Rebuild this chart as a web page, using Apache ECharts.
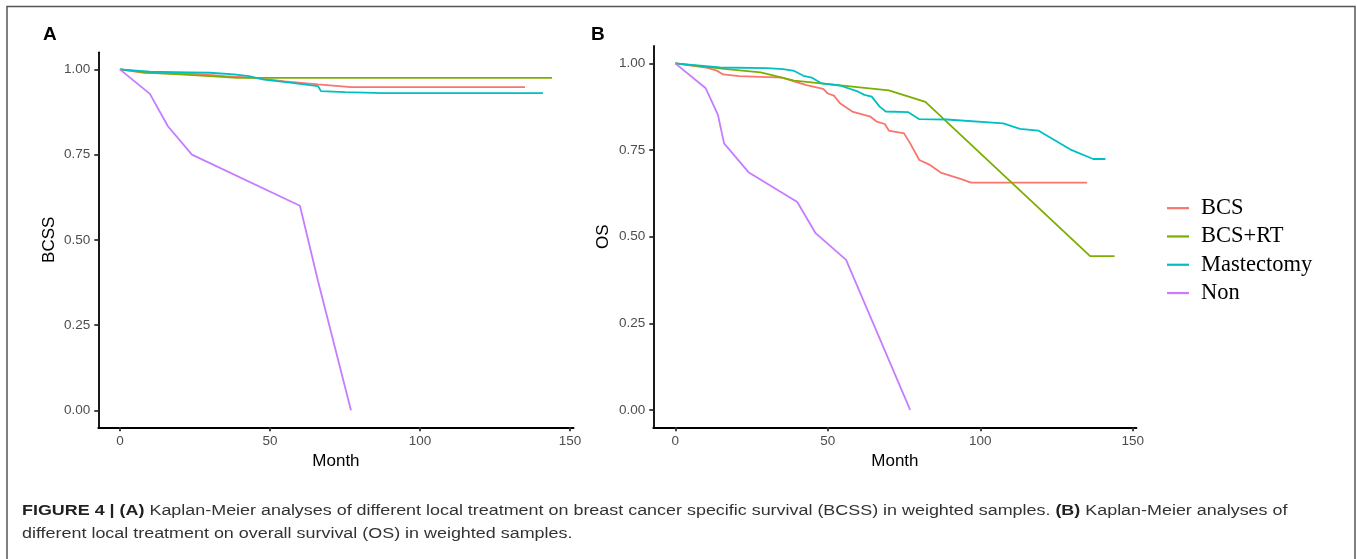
<!DOCTYPE html>
<html>
<head>
<meta charset="utf-8">
<script src="https://cdn.jsdelivr.net/npm/echarts@6/dist/echarts.min.js"></script>
<style>
html,body{margin:0;padding:0;background:#fff;}
#chart{width:1357px;height:559px;}
</style>
</head>
<body>
<div id="chart"></div>
<script>
// ---- data ----
const seriesNames = ['BCS', 'BCS+RT', 'Mastectomy', 'Non'];
const colors = ['#F8766D', '#7CAE00', '#00BFC4', '#C77CFF'];
const xTicks = [0, 50, 100, 150];
const yTicks = [0, 0.25, 0.5, 0.75, 1];

// Panel A: BCSS  [month, survival]
const bcssBCS = [[0,1],[8,0.99],[25,0.987],[35,0.98],[45,0.975],[55,0.965],[66,0.956],[77,0.948],[135,0.948]];
const bcssBCSRT = [[0,1],[10,0.99],[20,0.985],[30,0.98],[39,0.975],[144,0.975]];
const bcssMast = [[0,1],[10,0.993],[23,0.991],[30,0.99],[38,0.985],[43,0.98],[48,0.97],[56,0.962],[66,0.951],[67,0.936],[75,0.933],[88,0.93],[141,0.93]];
const bcssNon = [[0,1],[10,0.928],[16,0.833],[24,0.75],[60,0.6],[66,0.38],[77,0]];

// Panel B: OS
const osBCS = [[0,1],[10,0.988],[13.6,0.979],[15.7,0.968],[21,0.963],[35,0.959],[40,0.945],[43,0.937],[48.5,0.926],[50,0.913],[52,0.907],[54,0.885],[58,0.861],[64,0.846],[66,0.832],[68.7,0.825],[70,0.806],[75,0.798],[77,0.769],[80,0.721],[83.5,0.707],[87,0.685],[93,0.668],[97,0.656],[135,0.656]];
const osBCSRT = [[0,1],[16,0.984],[28,0.974],[39,0.95],[70,0.922],[82,0.889],[136,0.444],[144,0.444]];
const osMast = [[0,1],[14.6,0.988],[30,0.986],[35.4,0.983],[39,0.978],[42,0.964],[44.7,0.959],[48,0.942],[54,0.936],[59.5,0.92],[62,0.909],[64.4,0.904],[67,0.875],[69,0.861],[76.4,0.859],[80,0.839],[89,0.838],[107.5,0.827],[113,0.811],[119,0.806],[129.4,0.752],[137,0.724],[141,0.724]];
const osNon = [[0,1],[10,0.928],[14,0.851],[16,0.769],[24,0.686],[40,0.6],[46,0.51],[56,0.433],[77,0]];

const panelData = [[bcssBCS, bcssBCSRT, bcssMast, bcssNon], [osBCS, osBCSRT, osMast, osNon]];
const yTitles = ['BCSS', 'OS'];
const panelLetters = ['A', 'B'];

// ---- chart ----
const chart = echarts.init(document.getElementById('chart'), null, {renderer: 'canvas'});

const grids = [
  {left: 98.3, top: 52.3, width: 475.3, height: 375},
  {left: 653.3, top: 46, width: 483.2, height: 381.3}
];

function xAxisFor(i) {
  return {
    type: 'value', gridIndex: i, min: -7.2, max: 151.2,
    name: 'Month', nameLocation: 'middle', nameGap: 24,
    nameTextStyle: {fontFamily: 'Liberation Sans, Arial', fontSize: 17, color: '#000'},
    axisLine: {show: true, onZero: false, lineStyle: {color: '#000', width: 1.8}},
    axisTick: {show: true, customValues: xTicks, length: 4, lineStyle: {color: '#333', width: 1.8}},
    axisLabel: {customValues: xTicks, margin: 7, fontFamily: 'Liberation Sans, Arial', fontSize: 13.5, color: '#4d4d4d'},
    splitLine: {show: false}
  };
}
function yAxisFor(i) {
  return {
    type: 'value', gridIndex: i, min: -0.05, max: 1.05,
    name: yTitles[i], nameLocation: 'middle', nameGap: i === 0 ? 40 : 41, nameRotate: 90,
    nameTextStyle: {fontFamily: 'Liberation Sans, Arial', fontSize: 17, color: '#000'},
    axisLine: {show: true, onZero: false, lineStyle: {color: '#000', width: 1.8}},
    axisTick: {show: true, customValues: yTicks, length: 4, lineStyle: {color: '#333', width: 1.8}},
    axisLabel: {customValues: yTicks, margin: 8, fontFamily: 'Liberation Sans, Arial', fontSize: 13.5, color: '#4d4d4d',
      formatter: v => Number(v).toFixed(2)},
    splitLine: {show: false}
  };
}

const series = [];
panelData.forEach((sets, p) => {
  sets.forEach((d, k) => {
    series.push({
      name: seriesNames[k], type: 'line', xAxisIndex: p, yAxisIndex: p,
      data: d, showSymbol: false, symbol: 'none', smooth: false,
      lineStyle: {color: colors[k], width: 1.8}, itemStyle: {color: colors[k]},
      emphasis: {disabled: true}, z: 2 + k
    });
  });
});

const capFont = 'Liberation Sans, Arial';
const graphics = [
  {type: 'polyline', shape: {points: [[7, 560], [7, 6.5], [1355, 6.5], [1355, 560]]},
   style: {stroke: '#555', lineWidth: 1.5, fill: null}, silent: true},
  {type: 'text', x: 43, y: 35, style: {text: panelLetters[0], fontFamily: capFont, fontWeight: 'bold', fontSize: 19, fill: '#000', verticalAlign: 'middle'}},
  {type: 'text', x: 591, y: 35, style: {text: panelLetters[1], fontFamily: capFont, fontWeight: 'bold', fontSize: 19, fill: '#000', verticalAlign: 'middle'}},
  {type: 'text', x: 22, y: 511, scaleX: 1.156, style: {
    text: '{b|FIGURE 4 | (A)} Kaplan-Meier analyses of different local treatment on breast cancer specific survival (BCSS) in weighted samples. {b|(B)} Kaplan-Meier analyses of',
    fontFamily: capFont, fontSize: 15.5, fill: '#333', verticalAlign: 'middle',
    rich: {b: {fontFamily: capFont, fontSize: 15.5, fontWeight: 'bold', fill: '#231f20'}}
  }},
  {type: 'text', x: 22, y: 534, scaleX: 1.156, style: {
    text: 'different local treatment on overall survival (OS) in weighted samples.',
    fontFamily: capFont, fontSize: 15.5, fill: '#333', verticalAlign: 'middle'
  }}
];

chart.setOption({
  animation: false,
  backgroundColor: '#fff',
  grid: grids,
  xAxis: [xAxisFor(0), xAxisFor(1)],
  yAxis: [yAxisFor(0), yAxisFor(1)],
  legend: {
    data: seriesNames, orient: 'vertical', left: 1167, top: 194, padding: 0,
    itemGap: 0, itemWidth: 22, itemHeight: 2.2, icon: 'rect', selectedMode: false,
    textStyle: {fontFamily: 'Liberation Serif, Times New Roman', fontSize: 22.5, color: '#000', lineHeight: 28.3, padding: [0, 0, 0, 7]}
  },
  series: series,
  graphic: graphics
});
</script>
</body>
</html>
